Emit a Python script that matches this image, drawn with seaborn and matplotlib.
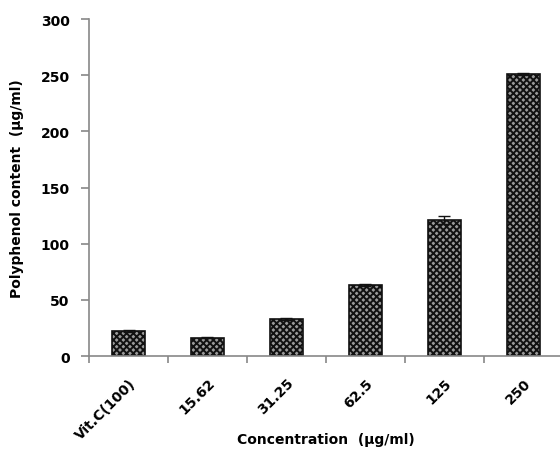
import numpy as np
import matplotlib
matplotlib.use("Agg")
import matplotlib.pyplot as plt
import seaborn as sns
import pandas as pd

# values
categories = ["Vit.C(100)", "15.62", "31.25", "62.5", "125", "250"]
polyphenol = [22.5, 16.5, 33.0, 63.0, 121.0, 251.0]
errors = [1.0, 0.5, 1.0, 1.0, 3.5, 0.8]
y_ticks = [0, 50, 100, 150, 200, 250, 300]

sns.set_style("white")
plt.rcParams["font.family"] = ["DejaVu Sans"]
plt.rcParams["font.weight"] = "bold"
plt.rcParams["hatch.linewidth"] = 1.4
plt.rcParams["text.color"] = "black"
plt.rcParams["axes.labelcolor"] = "black"
plt.rcParams["xtick.labelcolor"] = "black"
plt.rcParams["ytick.labelcolor"] = "black"

df = pd.DataFrame({"conc": categories, "value": polyphenol})

fig = plt.figure(figsize=(5.6, 4.56), dpi=100)
ax = fig.add_axes([0.159, 0.217, 0.846, 0.739])

sns.barplot(data=df, x="conc", y="value", order=categories, width=0.41,
            color="#9a9a9a", edgecolor="#111111", linewidth=1.2,
            errorbar=None, ax=ax)
for p in ax.patches:
    p.set_hatch("xxxxx")

ax.errorbar(np.arange(len(categories)), polyphenol, yerr=errors, fmt="none",
            ecolor="#111111", elinewidth=1.0, capsize=4, capthick=1.0)

ax.set_ylim(0, 300)
ax.set_xlim(-0.5, len(categories) - 0.5)
ax.set_yticks(y_ticks)
ax.set_yticklabels([str(t) for t in y_ticks], fontsize=10, fontweight="bold")
ax.set_xticks(np.arange(len(categories)))
ax.set_xticklabels(categories, rotation=45, ha="right", rotation_mode="anchor",
                   fontsize=10, fontweight="bold")
ax.set_xticks(np.arange(len(categories) + 1) - 0.5, minor=True)
ax.tick_params(axis="x", which="major", bottom=False, length=0, pad=14,
               labelcolor="black")
ax.tick_params(axis="x", which="minor", bottom=True, length=5, width=1.2,
               color="#888888", direction="out")
ax.tick_params(axis="y", left=True, length=6, width=1.2, color="#888888",
               direction="out", pad=8, labelcolor="black")

for s in ["top", "right"]:
    ax.spines[s].set_visible(False)
for s in ["left", "bottom"]:
    ax.spines[s].set_color("#888888")
    ax.spines[s].set_linewidth(1.2)

ax.set_xlabel("Concentration  (\u03bcg/ml)", fontsize=10, fontweight="bold", color="black")
ax.xaxis.set_label_coords(0.5, -0.225)
ax.set_ylabel("Polyphenol content  (\u03bcg/ml)", fontsize=10, fontweight="bold",
              labelpad=12, color="black")

fig.savefig("out.png", dpi=100)
